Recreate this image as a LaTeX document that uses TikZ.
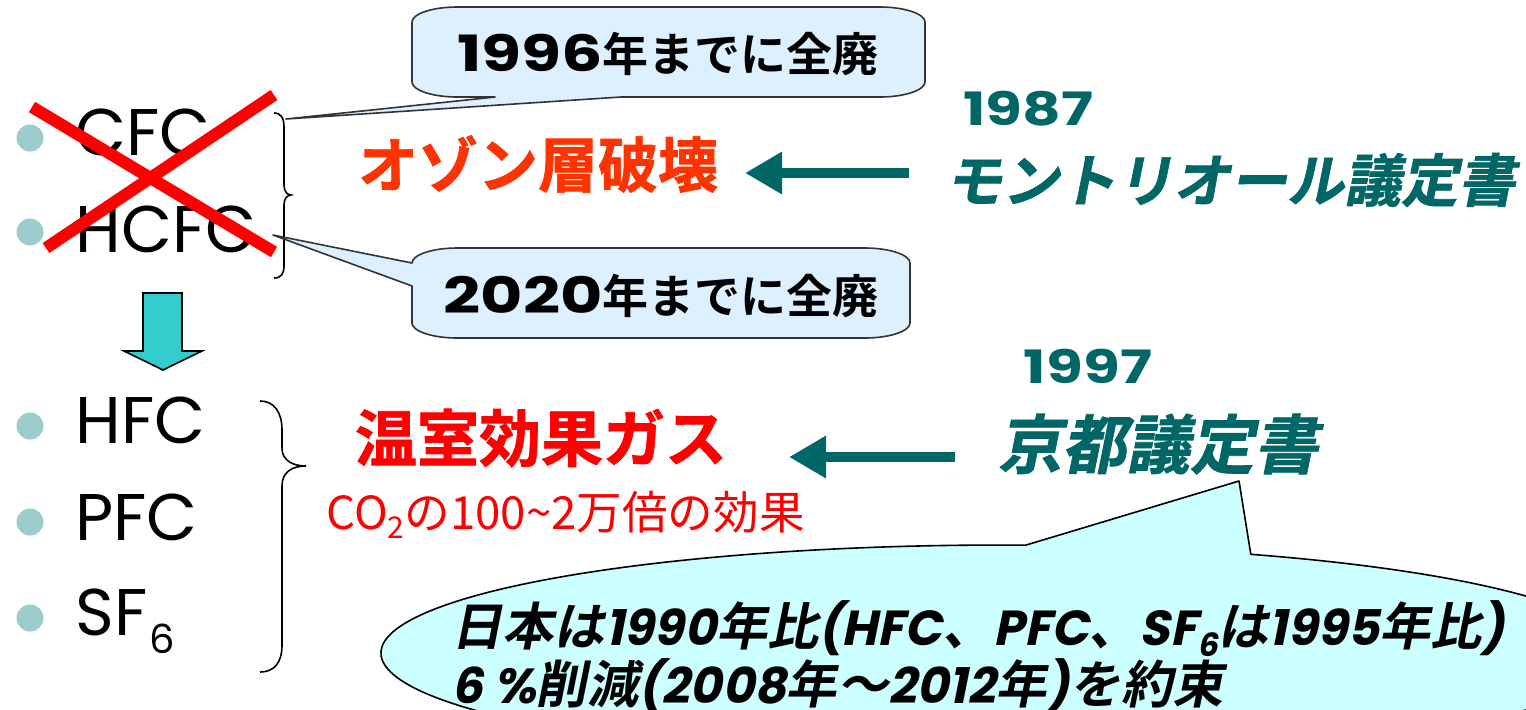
\documentclass[tikz,border=0pt]{standalone}
\usepackage{graphicx}
\usepackage{fontspec}
\setmainfont{Poppins}
\newfontfamily\pops{Poppins}
\newfontfamily\popb{Poppins Bold}
\newfontfamily\popbsl{Poppins Bold}[FakeSlant=0.2]
\newfontfamily\jpr{Noto Sans CJK JP}
\newfontfamily\jpb{Noto Sans CJK JP Bold}
\newfontfamily\jpbb{Noto Sans CJK JP Bold}[FakeBold=1.2]
\newfontfamily\jpbsl{Noto Sans CJK JP Bold}[FakeSlant=0.2]
\newfontfamily\jpbbsl{Noto Sans CJK JP Bold}[FakeSlant=0.2,FakeBold=1.2]
\usetikzlibrary{arrows.meta}
\definecolor{tealc}{HTML}{006666}
\definecolor{bulletc}{HTML}{9CCCCC}
\definecolor{callfill}{HTML}{DDF0FF}
\definecolor{ellfill}{HTML}{CCFFFF}
\definecolor{ozonec}{HTML}{FF3300}
\definecolor{downc}{HTML}{33CCCC}
\newcommand\fs[1]{\fontsize{#1pt}{#1pt}\selectfont}
\newcommand\jb[1]{{\jpb\fs{23}#1}}
\newcommand\jbs[1]{{\jpbsl\fs{25.6}#1}}
\newcommand\widen[1]{\scalebox{1.3}[1]{#1}}
\begin{document}
\begin{tikzpicture}[x=0.5pt,y=-0.5pt,
  bul/.style={circle, fill=bulletc, minimum size=13.5pt, inner sep=0pt},
  item/.style={anchor=base west, inner sep=0pt, font=\pops\fs{33}},
  xline/.style={red, line width=6pt},
  brace/.style={black, line width=0.8pt},
  callout/.style={draw=black!80, fill=callfill, line width=0.8pt, line join=round},
  calltext/.style={inner sep=0pt, font=\popb\fs{25}},
  year/.style={inner sep=0pt, font=\popb\fs{23}, text=tealc},
  proto/.style={inner sep=0pt, font=\jpbbsl, text=tealc},
  tarrow/.style={tealc, line width=5pt, -{Triangle[length=18.5pt,width=20pt]}},
  downarrow/.style={draw=black, fill=downc, line width=0.8pt},
  elltext/.style={anchor=base west, inner sep=0pt, font=\popbsl\fs{24.6}}
]
\useasboundingbox (0,0) rectangle (1526,709);
\clip (0,0) rectangle (1526,709);

% bullets and items
\node[bul] (b1) at (30,138) {};
\node[bul] (b2) at (30,232) {};
\node[bul] (b3) at (30,426) {};
\node[bul] (b4) at (30,522) {};
\node[bul] (b5) at (30,618) {};
\node[item] (cfc) at (75,155) {CFC};
\node[item] (hcfc) at (75,252) {HCFC};
\node[item] (hfc) at (75,443) {HFC};
\node[item] (pfc) at (75,540) {PFC};
\node[item] (sf6) at (75,635) {SF\kern1pt\raisebox{-9pt}{\fs{20}6}};

% red cross
\coordinate (x1a) at (32,107);
\coordinate (x1b) at (274,252);
\coordinate (x2a) at (274,95);
\coordinate (x2b) at (46,248);
\draw[xline] (x1a) -- (x1b);
\draw[xline] (x2a) -- (x2b);

% braces
\draw[brace] (274,113) .. controls (281,113) and (284,118) .. (284,127) -- (284,185)
  .. controls (284,191) and (287,195) .. (291,195)
  .. controls (287,195) and (284,199) .. (284,205) -- (284,266)
  .. controls (284,274) and (281,278) .. (274,278);
\draw[brace] (260,401) .. controls (274,401) and (282,412) .. (282,430) -- (282,448)
  .. controls (282,460) and (292,466) .. (306,466)
  .. controls (292,466) and (282,472) .. (282,486) -- (282,645)
  .. controls (282,663) and (274,672) .. (260,672);

% down arrow
\draw[downarrow] (143,293) -- (182,293) -- (182,351) -- (202,351) -- (163,370)
  -- (124,351) -- (143,351) -- cycle;

% callout 1
\coordinate (tip1) at (286,119);
\draw[callout] (412,22) -- (412,82) .. controls (412,90) and (432,97) .. (457,97)
  -- (495,97) -- (tip1) -- (621,97) -- (880,97)
  .. controls (905,97) and (925,90) .. (925,82) -- (925,22)
  .. controls (925,14) and (905,7) .. (880,7) -- (457,7)
  .. controls (432,7) and (412,14) .. (412,22) -- cycle;
\node[calltext] (c1) at (668,54) {\widen{1996}\jb{年までに全廃}};

% callout 2
\coordinate (tip2) at (273,235);
\draw[callout] (412,263) -- (tip2) -- (412,286) -- (412,323)
  .. controls (412,331) and (432,338) .. (457,338) -- (865,338)
  .. controls (890,338) and (910,331) .. (910,323) -- (910,263)
  .. controls (910,255) and (890,248) .. (865,248) -- (457,248)
  .. controls (432,248) and (412,255) .. (412,263) -- cycle;
\node[calltext] (c2) at (661,296) {\widen{2020}\jb{年までに全廃}};

% ozone section
\node[inner sep=0pt, font=\jpbb\fs{30}, text=ozonec] (oz) at (538,164) {オゾン層破壊};
\node[year] (y1) at (1028,109) {\widen{1987}};
\node[proto, font=\jpbbsl\fs{28.5}] (mp) at (1230,180) {モントリオール議定書};
\coordinate (a1s) at (909,173);
\coordinate (a1e) at (745,173);
\draw[tarrow] (a1s) -- (a1e);

% greenhouse section
\node[inner sep=0pt, font=\jpbb\fs{31}, text=red] (gh) at (541,438) {温室効果ガス};
\node[anchor=west, inner sep=0pt, font=\jpr\fs{22.8}, text=red] (co) at (326,515)
  {CO\raisebox{-4.5pt}{\fs{15}2}の100\textasciitilde 2万倍の効果};
\node[year] (y2) at (1088,366) {\widen{1997}};
\node[proto, font=\jpbbsl\fs{32}] (kp) at (1158,444) {京都議定書};
\coordinate (a2s) at (955,457);
\coordinate (a2e) at (789,457);
\draw[tarrow] (a2s) -- (a2e);

% big callout
\coordinate (tip3) at (1239,481);
\draw[fill=ellfill, draw=black, line width=0.8pt, line join=round]
  (1025.9,545.1) -- (tip3) -- (1250.8,554.3)
  arc[start angle=66.1, end angle=-272.4, x radius=309.5pt, y radius=54pt] -- cycle;
\node[elltext] (l1) at (451,645)
  {\jbs{日本は}1990\jbs{年比}(HFC\jbs{、}PFC\jbs{、}SF\raisebox{-5.5pt}{\fs{16}6}\jbs{は}1995\jbs{年比})};
\node[elltext] (l2) at (451,703)
  {6 \%\jbs{削減}(2008\jbs{年～}2012\jbs{年})\jbs{を約束}};
\end{tikzpicture}
\end{document}
